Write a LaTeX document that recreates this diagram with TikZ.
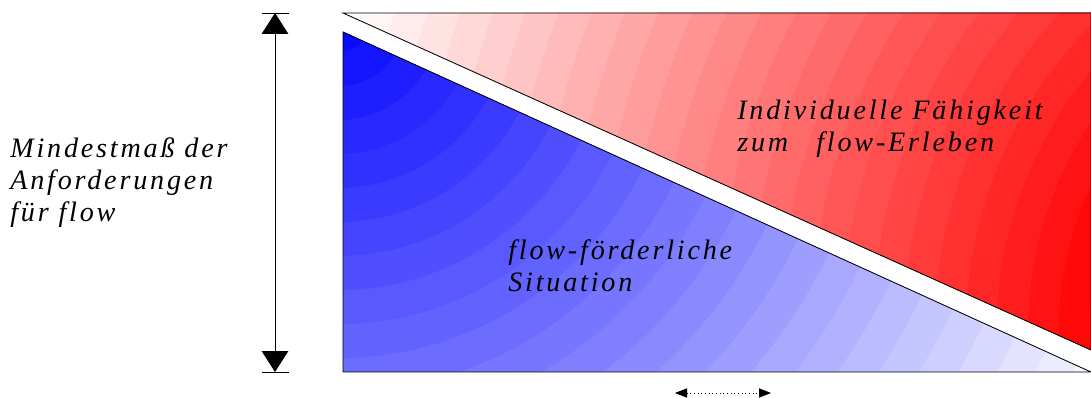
\documentclass[tikz,border=0pt]{standalone}
\usepackage{fontspec}
\setmainfont{Liberation Serif}
\usepackage{tikz}
\usetikzlibrary{arrows.meta}
\newfontfamily\spaced[LetterSpace=10]{Liberation Serif}
\definecolor{hot}{HTML}{FF0000}
\definecolor{cool}{HTML}{0000FF}
\definecolor{ink}{HTML}{000000}
\tikzset{
  outline/.style = {draw=ink, line width=0.6pt, line join=miter},
  lbl/.style     = {font=\spaced\itshape\fontsize{20}{22.8}\selectfont, text=ink,
                    inner sep=0pt, align=left, anchor=base west},
  span/.style    = {draw=ink, line width=0.6pt,
                    {Triangle[length=5.2mm,width=6.6mm]}-{Triangle[length=5.2mm,width=6.6mm]}},
  endbar/.style  = {draw=ink, line width=0.6pt},
  nudge/.style   = {draw=ink, dotted, line width=0.6pt,
                    {Triangle[length=3mm,width=2.3mm]}-{Triangle[length=3mm,width=2.3mm]}},
}

\begin{document}
\begin{tikzpicture}[x=0.025cm, y=-0.025cm]
  \useasboundingbox (0,0) rectangle (1091,398);
  % corners of the two fields
  \coordinate (rA) at (343,13);
  \coordinate (rB) at (1091,13);
  \coordinate (rC) at (1091,350);
  \coordinate (bA) at (343,32);
  \coordinate (bB) at (343,372);
  \coordinate (bC) at (1091,372);
  % red field, rings round the lower right
  \begin{scope}
    \clip (rA) -- (rB) -- (rC) -- cycle;
    \foreach \k in {36,...,1}{
      \pgfmathsetmacro\pct{100*(1-min(1,max(0,(\k*31-15-300)/800)))}
      \fill[hot!\pct!white] (1400,330) circle[radius=\k*31];}
  \end{scope}
  % blue field, rings round the upper left
  \begin{scope}
    \clip (bA) -- (bB) -- (bC) -- cycle;
    \foreach \k in {28,...,1}{
      \pgfmathsetmacro\pct{100*(1-min(1,max(0,(\k*34)/880)))}
      \fill[cool!\pct!white] (338,18) circle[radius=\k*34];}
  \end{scope}
  \draw[outline] (rA) -- (rB) -- (rC) -- cycle;
  \draw[outline] (bA) -- (bB) -- (bC) -- cycle;
  % height arrow
  \coordinate (top) at (275,13);
  \coordinate (bot) at (275,372);
  \draw[span] (top) -- (bot);
  \draw[endbar] (top) ++(-13,0) -- ++(27,0);
  \draw[endbar] (bot) ++(-13,0) -- ++(27,0);
  % small shift arrow
  \coordinate (dl) at (675,393);
  \coordinate (dr) at (771,393);
  \draw[nudge] (dl) -- (dr);
  % labels (base = last line)
  \node[lbl] (need)  at (10,222)  {Mindestmaß der\\Anforderungen\\für flow};
  \node[lbl] (skill) at (737,152) {Individuelle Fähigkeit\\zum\hspace{1em}flow-Erleben};
  \node[lbl] (situ)  at (508,292) {flow-förderliche\\Situation};
\end{tikzpicture}
\end{document}
